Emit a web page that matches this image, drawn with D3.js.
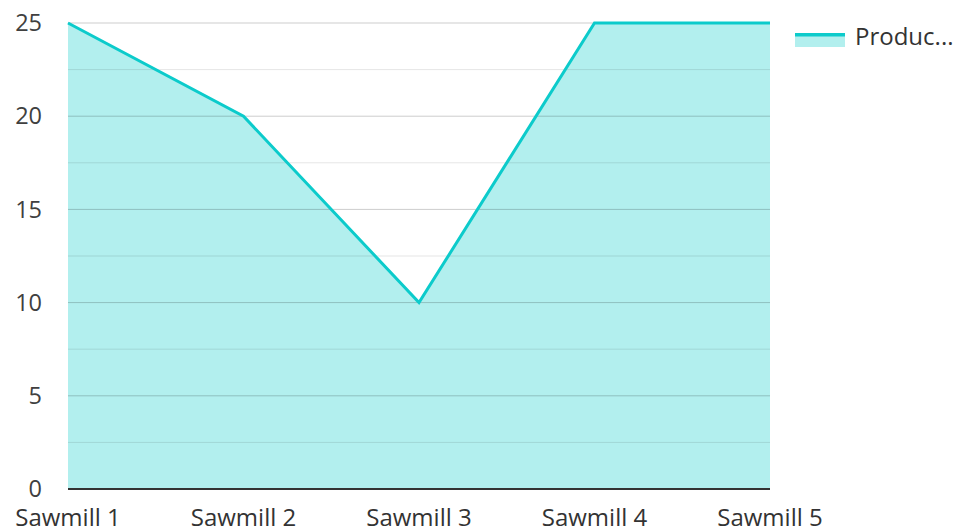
<!DOCTYPE html>
<html>
<head>
<meta charset="utf-8">
<script src="https://cdn.jsdelivr.net/npm/d3@7"></script>
<style>
  body { margin: 0; background: #fff; }
  svg { font-family: "Open Sans", "Noto Sans", sans-serif; }
</style>
</head>
<body>
<svg id="chart" width="957" height="531"></svg>
<script>
// donnees
const categories = ["Sawmill 1", "Sawmill 2", "Sawmill 3", "Sawmill 4", "Sawmill 5"];
const production = [25, 20, 10, 25, 25];
const yTicks = [0, 5, 10, 15, 20, 25];
const minorTicks = [2.5, 7.5, 12.5, 17.5, 22.5];
const seriesLabel = "Produc...";

let svg = d3.select("#chart");
let margeG = 68, margeD = 770, margeH = 23, margeB = 489;

let x = d3.scalePoint().domain(categories).range([margeG, margeD]).padding(0);
let y = d3.scaleLinear().domain([0, 25]).range([margeB, margeH]);

let data = categories.map((c, i) => ({ cat: c, val: production[i] }));

// zone remplie
svg.append("path")
    .datum(data)
    .attr("d", d3.area().x(d => x(d.cat)).y0(y(0)).y1(d => y(d.val)))
    .attr("fill", "#b2efee");

// grille secondaire
svg.selectAll(".minor")
    .data(minorTicks)
    .join("line")
    .attr("class", "minor")
    .attr("x1", margeG).attr("x2", margeD)
    .attr("y1", d => y(d)).attr("y2", d => y(d))
    .attr("stroke", "rgba(0,0,0,0.1)")
    .attr("stroke-width", 1);

// grille principale
svg.selectAll(".major")
    .data(yTicks.filter(d => d > 0))
    .join("line")
    .attr("class", "major")
    .attr("x1", margeG).attr("x2", margeD)
    .attr("y1", d => y(d)).attr("y2", d => y(d))
    .attr("stroke", "rgba(0,0,0,0.2)")
    .attr("stroke-width", 1);

// ligne de la serie
svg.append("path")
    .datum(data)
    .attr("d", d3.line().x(d => x(d.cat)).y(d => y(d.val)))
    .attr("fill", "none")
    .attr("stroke", "#0ccbcb")
    .attr("stroke-width", 3)
    .attr("stroke-linejoin", "miter");

// axe des abscisses
svg.append("line")
    .attr("x1", margeG).attr("x2", margeD)
    .attr("y1", y(0)).attr("y2", y(0))
    .attr("stroke", "#333")
    .attr("stroke-width", 2);

// labels Y
svg.selectAll(".ylab")
    .data(yTicks)
    .join("text")
    .attr("class", "ylab")
    .attr("x", 42)
    .attr("y", d => y(d))
    .attr("dy", "0.35em")
    .attr("text-anchor", "end")
    .attr("font-size", "23.5px")
    .attr("fill", "#404040")
    .text(d => d);

// labels X
svg.selectAll(".xlab")
    .data(categories)
    .join("text")
    .attr("class", "xlab")
    .attr("x", d => x(d))
    .attr("y", 526)
    .attr("text-anchor", "middle")
    .attr("font-size", "24px")
    .attr("fill", "#333")
    .text(d => d);

// legende
let leg = svg.append("g").attr("transform", "translate(795,33)");
leg.append("rect").attr("width", 50).attr("height", 14).attr("fill", "#b2efee");
leg.append("rect").attr("width", 50).attr("height", 3.5).attr("fill", "#0ccbcb");
leg.append("text")
    .attr("x", 60).attr("y", 4)
    .attr("dy", "0.35em")
    .attr("font-size", "24px")
    .attr("fill", "#333")
    .text(seriesLabel);
</script>
</body>
</html>
